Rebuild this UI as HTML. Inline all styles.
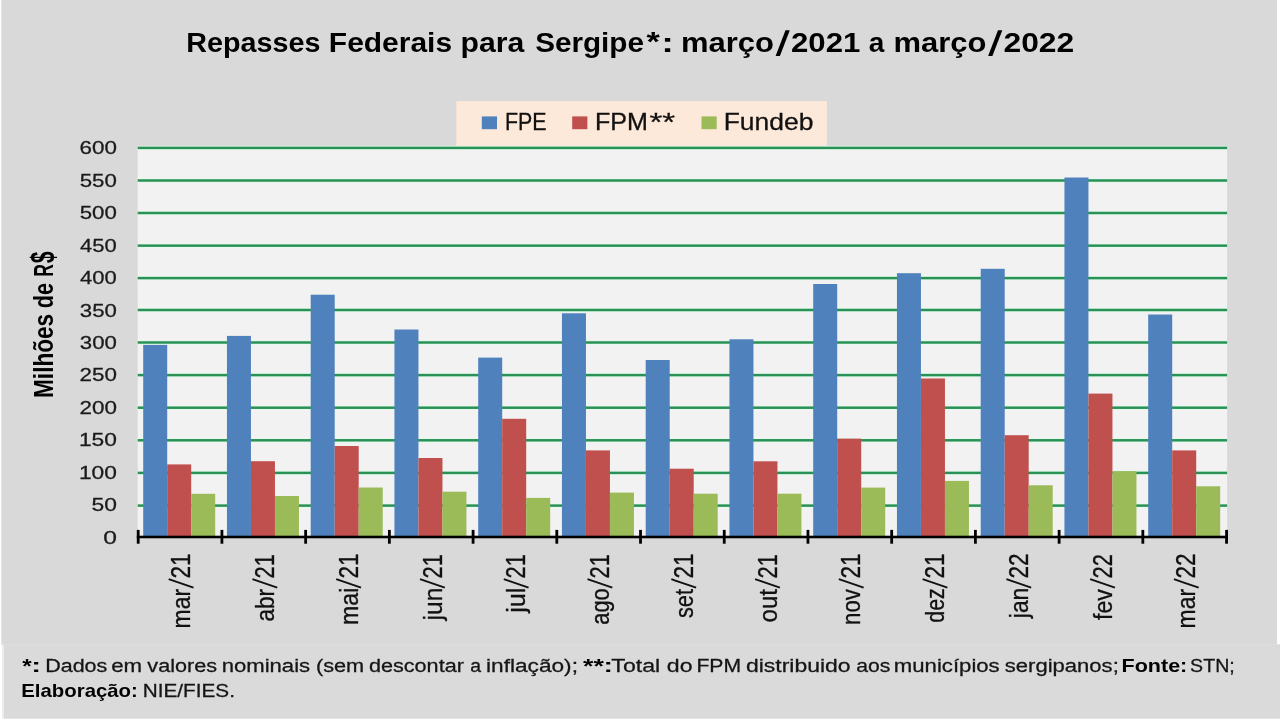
<!DOCTYPE html>
<html><head><meta charset="utf-8"><title>Repasses Federais para Sergipe</title>
<style>html,body{margin:0;padding:0;background:#fff;}body{width:1280px;height:720px;overflow:hidden;}
svg{display:block;font-family:"Liberation Sans",sans-serif;}</style></head>
<body><svg width="1280" height="720" viewBox="0 0 1280 720">
<rect x="0" y="0" width="1280" height="720" fill="#ffffff"/>
<rect x="1.3" y="0" width="1275.7" height="645" fill="#d9d9d9"/>
<rect x="2.1" y="644.4" width="1277.9" height="74.2" fill="#ebebeb"/>
<rect x="4.1" y="644.4" width="1275.9" height="74.2" fill="#dadada"/>
<rect x="137.7" y="146" width="1089.4" height="392.2" fill="#f2f2f2"/>
<rect x="456.3" y="101.2" width="370.6" height="46" fill="#fde9d9"/>
<rect x="137.7" y="503.50" width="1089.4" height="4.2" fill="#e2fbea"/>
<rect x="137.7" y="504.35" width="1089.4" height="2.5" fill="#2a9156"/>
<rect x="137.7" y="470.80" width="1089.4" height="4.2" fill="#e2fbea"/>
<rect x="137.7" y="471.65" width="1089.4" height="2.5" fill="#2a9156"/>
<rect x="137.7" y="438.20" width="1089.4" height="4.2" fill="#e2fbea"/>
<rect x="137.7" y="439.05" width="1089.4" height="2.5" fill="#2a9156"/>
<rect x="137.7" y="405.60" width="1089.4" height="4.2" fill="#e2fbea"/>
<rect x="137.7" y="406.45" width="1089.4" height="2.5" fill="#2a9156"/>
<rect x="137.7" y="373.00" width="1089.4" height="4.2" fill="#e2fbea"/>
<rect x="137.7" y="373.85" width="1089.4" height="2.5" fill="#2a9156"/>
<rect x="137.7" y="340.40" width="1089.4" height="4.2" fill="#e2fbea"/>
<rect x="137.7" y="341.25" width="1089.4" height="2.5" fill="#2a9156"/>
<rect x="137.7" y="307.90" width="1089.4" height="4.2" fill="#e2fbea"/>
<rect x="137.7" y="308.75" width="1089.4" height="2.5" fill="#2a9156"/>
<rect x="137.7" y="276.00" width="1089.4" height="4.2" fill="#e2fbea"/>
<rect x="137.7" y="276.85" width="1089.4" height="2.5" fill="#2a9156"/>
<rect x="137.7" y="243.55" width="1089.4" height="4.2" fill="#e2fbea"/>
<rect x="137.7" y="244.40" width="1089.4" height="2.5" fill="#2a9156"/>
<rect x="137.7" y="210.90" width="1089.4" height="4.2" fill="#e2fbea"/>
<rect x="137.7" y="211.75" width="1089.4" height="2.5" fill="#2a9156"/>
<rect x="137.7" y="178.40" width="1089.4" height="4.2" fill="#e2fbea"/>
<rect x="137.7" y="179.25" width="1089.4" height="2.5" fill="#2a9156"/>
<rect x="137.7" y="145.80" width="1089.4" height="4.2" fill="#e2fbea"/>
<rect x="137.7" y="146.65" width="1089.4" height="2.5" fill="#2a9156"/>
<rect x="143.20" y="344.90" width="24.00" height="191.30" fill="#4f81bd"/>
<rect x="167.20" y="464.40" width="24.00" height="71.80" fill="#c0504d"/>
<rect x="191.20" y="493.80" width="24.00" height="42.40" fill="#9bbb59"/>
<rect x="226.95" y="335.90" width="24.00" height="200.30" fill="#4f81bd"/>
<rect x="250.95" y="461.20" width="24.00" height="75.00" fill="#c0504d"/>
<rect x="274.95" y="496.00" width="24.00" height="40.20" fill="#9bbb59"/>
<rect x="310.70" y="294.70" width="24.00" height="241.50" fill="#4f81bd"/>
<rect x="334.70" y="446.00" width="24.00" height="90.20" fill="#c0504d"/>
<rect x="358.70" y="487.50" width="24.00" height="48.70" fill="#9bbb59"/>
<rect x="394.45" y="329.50" width="24.00" height="206.70" fill="#4f81bd"/>
<rect x="418.45" y="458.00" width="24.00" height="78.20" fill="#c0504d"/>
<rect x="442.45" y="491.70" width="24.00" height="44.50" fill="#9bbb59"/>
<rect x="478.20" y="357.60" width="24.00" height="178.60" fill="#4f81bd"/>
<rect x="502.20" y="418.80" width="24.00" height="117.40" fill="#c0504d"/>
<rect x="526.20" y="497.90" width="24.00" height="38.30" fill="#9bbb59"/>
<rect x="561.95" y="313.30" width="24.00" height="222.90" fill="#4f81bd"/>
<rect x="585.95" y="450.40" width="24.00" height="85.80" fill="#c0504d"/>
<rect x="609.95" y="492.60" width="24.00" height="43.60" fill="#9bbb59"/>
<rect x="645.70" y="360.00" width="24.00" height="176.20" fill="#4f81bd"/>
<rect x="669.70" y="468.70" width="24.00" height="67.50" fill="#c0504d"/>
<rect x="693.70" y="493.70" width="24.00" height="42.50" fill="#9bbb59"/>
<rect x="729.45" y="339.30" width="24.00" height="196.90" fill="#4f81bd"/>
<rect x="753.45" y="461.30" width="24.00" height="74.90" fill="#c0504d"/>
<rect x="777.45" y="493.70" width="24.00" height="42.50" fill="#9bbb59"/>
<rect x="813.20" y="284.00" width="24.00" height="252.20" fill="#4f81bd"/>
<rect x="837.20" y="438.60" width="24.00" height="97.60" fill="#c0504d"/>
<rect x="861.20" y="487.60" width="24.00" height="48.60" fill="#9bbb59"/>
<rect x="896.95" y="273.20" width="24.00" height="263.00" fill="#4f81bd"/>
<rect x="920.95" y="378.50" width="24.00" height="157.70" fill="#c0504d"/>
<rect x="944.95" y="480.90" width="24.00" height="55.30" fill="#9bbb59"/>
<rect x="980.70" y="268.80" width="24.00" height="267.40" fill="#4f81bd"/>
<rect x="1004.70" y="435.20" width="24.00" height="101.00" fill="#c0504d"/>
<rect x="1028.70" y="485.30" width="24.00" height="50.90" fill="#9bbb59"/>
<rect x="1064.45" y="177.50" width="24.00" height="358.70" fill="#4f81bd"/>
<rect x="1088.45" y="393.60" width="24.00" height="142.60" fill="#c0504d"/>
<rect x="1112.45" y="471.20" width="24.00" height="65.00" fill="#9bbb59"/>
<rect x="1148.20" y="314.50" width="24.00" height="221.70" fill="#4f81bd"/>
<rect x="1172.20" y="450.40" width="24.00" height="85.80" fill="#c0504d"/>
<rect x="1196.20" y="486.30" width="24.00" height="49.90" fill="#9bbb59"/>
<rect x="136.8" y="535.7" width="1091.2" height="2.6" fill="#000"/>
<rect x="136.80" y="529.9" width="2.8" height="13.8" fill="#000"/>
<rect x="220.52" y="529.9" width="2.8" height="13.8" fill="#000"/>
<rect x="304.24" y="529.9" width="2.8" height="13.8" fill="#000"/>
<rect x="387.96" y="529.9" width="2.8" height="13.8" fill="#000"/>
<rect x="471.68" y="529.9" width="2.8" height="13.8" fill="#000"/>
<rect x="555.40" y="529.9" width="2.8" height="13.8" fill="#000"/>
<rect x="639.12" y="529.9" width="2.8" height="13.8" fill="#000"/>
<rect x="722.84" y="529.9" width="2.8" height="13.8" fill="#000"/>
<rect x="806.56" y="529.9" width="2.8" height="13.8" fill="#000"/>
<rect x="890.28" y="529.9" width="2.8" height="13.8" fill="#000"/>
<rect x="974.00" y="529.9" width="2.8" height="13.8" fill="#000"/>
<rect x="1057.72" y="529.9" width="2.8" height="13.8" fill="#000"/>
<rect x="1141.44" y="529.9" width="2.8" height="13.8" fill="#000"/>
<rect x="1225.16" y="529.9" width="2.8" height="13.8" fill="#000"/>
<rect x="481.8" y="116.4" width="15.2" height="12.8" fill="#4f81bd"/>
<rect x="572.2" y="116.4" width="15.2" height="12.8" fill="#c0504d"/>
<rect x="701.5" y="116.4" width="15.2" height="12.8" fill="#9bbb59"/>
<g opacity="0.999">
<text transform="translate(504.89,130.30) scale(0.9195,1)" font-size="23.27" stroke="#111" stroke-width="0.313" fill="#111">FPE</text>
<text transform="translate(594.89,130.30) scale(1.0797,1)" font-size="23.27" stroke="#111" stroke-width="0.289" fill="#111">FPM</text>
<text transform="translate(649.50,130.87) scale(1.6533,1.3143)" font-size="20.00" stroke="#111" stroke-width="0.204" fill="#111">**</text>
<text transform="translate(723.68,130.30) scale(1.1379,1)" font-size="23.27" stroke="#111" stroke-width="0.281" fill="#111">Fundeb</text>
<text transform="translate(186.33,52.10) scale(1.0347,1)" font-size="27.78" font-weight="bold" fill="#000">Repasses</text>
<text transform="translate(328.85,52.10) scale(1.0789,1)" font-size="27.78" font-weight="bold" fill="#000">Federais</text>
<text transform="translate(460.54,52.10) scale(1.0873,1)" font-size="27.78" font-weight="bold" fill="#000">para</text>
<text transform="translate(535.18,52.10) scale(1.0676,1)" font-size="27.78" font-weight="bold" fill="#000">Sergipe</text>
<text transform="translate(680.99,52.10) scale(1.1156,1)" font-size="27.78" font-weight="bold" fill="#000">março</text>
<text transform="translate(790.99,52.10) scale(1.1222,1)" font-size="27.78" font-weight="bold" fill="#000">2021</text>
<text transform="translate(868.73,52.10) scale(1.0092,1)" font-size="27.78" font-weight="bold" fill="#000">a</text>
<text transform="translate(893.49,52.10) scale(1.1156,1)" font-size="27.78" font-weight="bold" fill="#000">março</text>
<text transform="translate(1003.47,52.10) scale(1.1455,1)" font-size="27.78" font-weight="bold" fill="#000">2022</text>
<polygon class="t" points="775.6,56.1 779.9,56.1 789.8,30.2 785.5,30.2" fill="#000"/>
<polygon class="t" points="988.1,56.1 992.4,56.1 1002.3,30.2 998.0,30.2" fill="#000"/>
<text transform="translate(646.41,51.09) scale(1.7161,1.3960)" font-size="20.00" font-weight="bold" fill="#000">*</text>
<text transform="translate(661.20,52.10) scale(1.8947,1.4257)" font-size="20.00" font-weight="bold" fill="#000">:</text>
<text transform="translate(103.28,543.50) scale(1.3001,1)" font-size="18.91" stroke="#1a1a1a" stroke-width="0.263" fill="#1a1a1a">0</text>
<text transform="translate(91.49,511.08) scale(1.2088,1)" font-size="18.91" stroke="#1a1a1a" stroke-width="0.273" fill="#1a1a1a">50</text>
<text transform="translate(78.89,478.66) scale(1.2039,1)" font-size="18.91" stroke="#1a1a1a" stroke-width="0.273" fill="#1a1a1a">100</text>
<text transform="translate(78.89,446.24) scale(1.2039,1)" font-size="18.91" stroke="#1a1a1a" stroke-width="0.273" fill="#1a1a1a">150</text>
<text transform="translate(79.48,413.82) scale(1.1849,1)" font-size="18.91" stroke="#1a1a1a" stroke-width="0.276" fill="#1a1a1a">200</text>
<text transform="translate(79.48,381.40) scale(1.1849,1)" font-size="18.91" stroke="#1a1a1a" stroke-width="0.276" fill="#1a1a1a">250</text>
<text transform="translate(79.77,348.98) scale(1.1756,1)" font-size="18.91" stroke="#1a1a1a" stroke-width="0.277" fill="#1a1a1a">300</text>
<text transform="translate(79.77,316.56) scale(1.1756,1)" font-size="18.91" stroke="#1a1a1a" stroke-width="0.277" fill="#1a1a1a">350</text>
<text transform="translate(80.10,284.14) scale(1.1646,1)" font-size="18.91" stroke="#1a1a1a" stroke-width="0.278" fill="#1a1a1a">400</text>
<text transform="translate(80.10,251.72) scale(1.1646,1)" font-size="18.91" stroke="#1a1a1a" stroke-width="0.278" fill="#1a1a1a">450</text>
<text transform="translate(79.71,219.30) scale(1.1774,1)" font-size="18.91" stroke="#1a1a1a" stroke-width="0.276" fill="#1a1a1a">500</text>
<text transform="translate(79.71,186.88) scale(1.1774,1)" font-size="18.91" stroke="#1a1a1a" stroke-width="0.276" fill="#1a1a1a">550</text>
<text transform="translate(79.48,154.46) scale(1.1849,1)" font-size="18.91" stroke="#1a1a1a" stroke-width="0.276" fill="#1a1a1a">600</text>
<text transform="translate(53.10,397.97) rotate(-90) scale(0.8318,1)" font-size="27.20" font-weight="bold" fill="#000">Milhões</text>
<text transform="translate(53.10,308.37) rotate(-90) scale(0.7992,1)" font-size="27.20" font-weight="bold" fill="#000">de</text>
<text transform="translate(53.10,276.74) rotate(-90) scale(0.6529,1)" font-size="26.91" font-weight="bold" fill="#000">R</text>
<text transform="translate(54.47,263.36) rotate(-90) scale(1.0566,1.6220)" font-size="20.00" font-weight="bold" fill="#000">$</text>
<text transform="translate(190.19,578.53) rotate(-90) scale(0.8377,1)" font-size="26.88" stroke="#111" stroke-width="0.328" fill="#111">21</text>
<line x1="193.49" y1="587.7" x2="168.69" y2="579.2" stroke="#111" stroke-width="1.9"/>
<text transform="translate(190.19,628.39) rotate(-90) scale(0.8658,1)" font-size="26.51" stroke="#111" stroke-width="0.322" fill="#111">mar</text>
<text transform="translate(273.96,578.50) rotate(-90) scale(0.8156,1)" font-size="26.88" stroke="#111" stroke-width="0.332" fill="#111">21</text>
<line x1="277.26" y1="587.7" x2="252.46" y2="579.2" stroke="#111" stroke-width="1.9"/>
<text transform="translate(273.96,621.56) rotate(-90) scale(0.8536,1)" font-size="26.51" stroke="#111" stroke-width="0.325" fill="#111">abr</text>
<text transform="translate(357.73,578.53) rotate(-90) scale(0.8377,1)" font-size="26.88" stroke="#111" stroke-width="0.328" fill="#111">21</text>
<line x1="361.03" y1="587.7" x2="336.23" y2="579.2" stroke="#111" stroke-width="1.9"/>
<text transform="translate(357.73,625.01) rotate(-90) scale(0.8742,1)" font-size="26.51" stroke="#111" stroke-width="0.321" fill="#111">mai</text>
<text transform="translate(441.50,578.50) rotate(-90) scale(0.8156,1)" font-size="26.88" stroke="#111" stroke-width="0.332" fill="#111">21</text>
<line x1="444.80" y1="587.7" x2="420.00" y2="579.2" stroke="#111" stroke-width="1.9"/>
<text transform="translate(441.50,620.39) rotate(-90) scale(0.9262,1)" font-size="26.51" stroke="#111" stroke-width="0.312" fill="#111">jun</text>
<text transform="translate(525.26,578.50) rotate(-90) scale(0.8156,1)" font-size="26.88" stroke="#111" stroke-width="0.332" fill="#111">21</text>
<line x1="528.56" y1="587.7" x2="503.76" y2="579.2" stroke="#111" stroke-width="1.9"/>
<text transform="translate(525.26,612.87) rotate(-90) scale(0.9548,1)" font-size="26.51" stroke="#111" stroke-width="0.307" fill="#111">jul</text>
<text transform="translate(609.03,578.50) rotate(-90) scale(0.8156,1)" font-size="26.88" stroke="#111" stroke-width="0.332" fill="#111">21</text>
<line x1="612.33" y1="587.7" x2="587.53" y2="579.2" stroke="#111" stroke-width="1.9"/>
<text transform="translate(609.03,624.68) rotate(-90) scale(0.8222,1)" font-size="26.51" stroke="#111" stroke-width="0.331" fill="#111">ago</text>
<text transform="translate(692.81,578.53) rotate(-90) scale(0.8377,1)" font-size="26.88" stroke="#111" stroke-width="0.328" fill="#111">21</text>
<line x1="696.11" y1="587.7" x2="671.31" y2="579.2" stroke="#111" stroke-width="1.9"/>
<text transform="translate(692.81,618.10) rotate(-90) scale(0.8211,1)" font-size="26.51" stroke="#111" stroke-width="0.331" fill="#111">set</text>
<text transform="translate(776.58,578.50) rotate(-90) scale(0.8156,1)" font-size="26.88" stroke="#111" stroke-width="0.332" fill="#111">21</text>
<line x1="779.88" y1="587.7" x2="755.08" y2="579.2" stroke="#111" stroke-width="1.9"/>
<text transform="translate(776.58,622.46) rotate(-90) scale(0.9058,1)" font-size="26.51" stroke="#111" stroke-width="0.315" fill="#111">out</text>
<text transform="translate(860.35,578.53) rotate(-90) scale(0.8377,1)" font-size="26.88" stroke="#111" stroke-width="0.328" fill="#111">21</text>
<line x1="863.64" y1="587.7" x2="838.85" y2="579.2" stroke="#111" stroke-width="1.9"/>
<text transform="translate(860.35,624.94) rotate(-90) scale(0.8374,1)" font-size="26.51" stroke="#111" stroke-width="0.328" fill="#111">nov</text>
<text transform="translate(944.12,578.53) rotate(-90) scale(0.8377,1)" font-size="26.88" stroke="#111" stroke-width="0.328" fill="#111">21</text>
<line x1="947.41" y1="587.7" x2="922.62" y2="579.2" stroke="#111" stroke-width="1.9"/>
<text transform="translate(944.12,622.76) rotate(-90) scale(0.8088,1)" font-size="26.51" stroke="#111" stroke-width="0.334" fill="#111">dez</text>
<text transform="translate(1027.88,578.53) rotate(-90) scale(0.8377,1)" font-size="26.88" stroke="#111" stroke-width="0.328" fill="#111">22</text>
<line x1="1031.18" y1="587.7" x2="1006.38" y2="579.2" stroke="#111" stroke-width="1.9"/>
<text transform="translate(1027.88,618.18) rotate(-90) scale(0.8607,1)" font-size="26.51" stroke="#111" stroke-width="0.323" fill="#111">jan</text>
<text transform="translate(1111.65,578.50) rotate(-90) scale(0.8156,1)" font-size="26.88" stroke="#111" stroke-width="0.332" fill="#111">22</text>
<line x1="1114.95" y1="587.7" x2="1090.15" y2="579.2" stroke="#111" stroke-width="1.9"/>
<text transform="translate(1111.65,620.04) rotate(-90) scale(0.8730,1)" font-size="26.51" stroke="#111" stroke-width="0.321" fill="#111">fev</text>
<text transform="translate(1195.42,578.53) rotate(-90) scale(0.8377,1)" font-size="26.88" stroke="#111" stroke-width="0.328" fill="#111">22</text>
<line x1="1198.72" y1="587.7" x2="1173.92" y2="579.2" stroke="#111" stroke-width="1.9"/>
<text transform="translate(1195.42,628.39) rotate(-90) scale(0.8658,1)" font-size="26.51" stroke="#111" stroke-width="0.322" fill="#111">mar</text>
<text transform="translate(45.18,672.00) scale(1.1832,1)" font-size="18.18" stroke="#151515" stroke-width="0.276" fill="#151515">Dados</text>
<text transform="translate(111.25,672.00) scale(1.2246,1)" font-size="18.18" stroke="#151515" stroke-width="0.271" fill="#151515">em</text>
<text transform="translate(147.35,672.00) scale(1.1898,1)" font-size="18.18" stroke="#151515" stroke-width="0.275" fill="#151515">valores</text>
<text transform="translate(221.66,672.00) scale(1.2163,1)" font-size="18.18" stroke="#151515" stroke-width="0.272" fill="#151515">nominais</text>
<text transform="translate(316.00,672.00) scale(1.1931,1)" font-size="18.18" stroke="#151515" stroke-width="0.275" fill="#151515">(sem</text>
<text transform="translate(368.94,672.00) scale(1.1888,1)" font-size="18.18" stroke="#151515" stroke-width="0.275" fill="#151515">descontar</text>
<text transform="translate(470.17,672.00) scale(1.0680,1)" font-size="18.18" stroke="#151515" stroke-width="0.290" fill="#151515">a</text>
<text transform="translate(486.03,672.00) scale(1.2465,1)" font-size="18.18" stroke="#151515" stroke-width="0.269" fill="#151515">inflação);</text>
<text transform="translate(611.34,672.00) scale(1.2723,1)" font-size="18.18" stroke="#151515" stroke-width="0.266" fill="#151515">Total</text>
<text transform="translate(666.82,672.00) scale(1.2735,1)" font-size="18.18" stroke="#151515" stroke-width="0.266" fill="#151515">do</text>
<text transform="translate(696.41,672.00) scale(1.1649,1)" font-size="18.18" stroke="#151515" stroke-width="0.278" fill="#151515">FPM</text>
<text transform="translate(745.98,672.00) scale(1.2628,1)" font-size="18.18" stroke="#151515" stroke-width="0.267" fill="#151515">distribuido</text>
<text transform="translate(856.30,672.00) scale(1.1645,1)" font-size="18.18" stroke="#151515" stroke-width="0.278" fill="#151515">aos</text>
<text transform="translate(893.86,672.00) scale(1.2187,1)" font-size="18.18" stroke="#151515" stroke-width="0.272" fill="#151515">municípios</text>
<text transform="translate(1004.79,672.00) scale(1.2132,1)" font-size="18.18" stroke="#151515" stroke-width="0.272" fill="#151515">sergipanos;</text>
<text transform="translate(1121.50,672.00) scale(1.1855,1)" font-size="18.18" font-weight="bold" fill="#000">Fonte:</text>
<text transform="translate(1190.12,672.00) scale(1.0795,1)" font-size="18.18" stroke="#151515" stroke-width="0.289" fill="#151515">STN;</text>
<text transform="translate(22.14,672.60) scale(1.2129,1.0470)" font-size="20.00" font-weight="bold" fill="#000">*</text>
<text transform="translate(31.30,672.10) scale(1.4737,0.9307)" font-size="20.00" font-weight="bold" fill="#000">:</text>
<text transform="translate(583.03,672.60) scale(1.3376,1.0470)" font-size="20.00" font-weight="bold" fill="#000">**</text>
<text transform="translate(603.55,672.10) scale(1.4211,0.9307)" font-size="20.00" font-weight="bold" fill="#000">:</text>
<text transform="translate(21.28,696.60) scale(1.1208,1)" font-size="18.18" font-weight="bold" fill="#000">Elaboração:</text>
<text transform="translate(142.74,696.60) scale(1.1412,1)" font-size="18.18" stroke="#151515" stroke-width="0.281" fill="#151515">NIE/FIES.</text>
</g>
</svg></body></html>
